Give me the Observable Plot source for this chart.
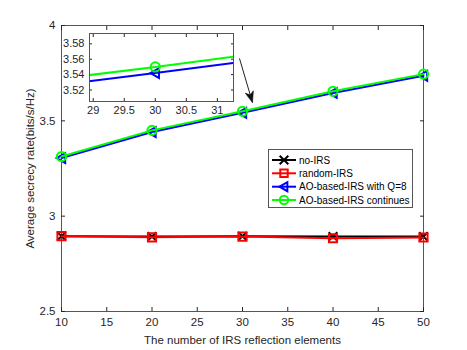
<!DOCTYPE html>
<html>
<head>
<meta charset="utf-8">
<script src="https://cdn.jsdelivr.net/npm/d3@7"></script>
<script src="https://cdn.jsdelivr.net/npm/@observablehq/plot@0.6"></script>
<style>
  html, body { margin: 0; padding: 0; background: white; }
  #wrap { position: relative; width: 467px; height: 350px; }
  #inset { position: absolute; left: 59px; top: 28px; }
</style>
</head>
<body>
<div id="wrap"><div id="main"></div><div id="inset"></div></div>
<script>
// ---- data ----
const xVals = [10, 20, 30, 40, 50];
const noIRS = [2.895, 2.893, 2.895, 2.893, 2.893];
const randomIRS = [2.895, 2.889, 2.893, 2.884, 2.888];
const aoQ8 = [3.305, 3.441, 3.542, 3.646, 3.736];
const aoContinues = [3.313, 3.450, 3.550, 3.655, 3.745];
const seriesNames = ["no-IRS", "random-IRS", "AO-based-IRS with Q=8", "AO-based-IRS continues"];
const seriesColors = ["#000000", "#ff0000", "#0000ff", "#00ff00"];
const xTicks = [10, 15, 20, 25, 30, 35, 40, 45, 50];
const yTicks = [2.5, 3, 3.5, 4];
const insetXTicks = [29, 29.5, 30, 30.5, 31];
const insetYTicks = [3.52, 3.54, 3.56, 3.58];
const xLabel = "The number of IRS reflection elements";
const yLabel = "Average secrecy rate(bits/s/Hz)";
const arrowStart = {x: 29.67, y: 3.827};
const arrowEnd = {x: 31.1, y: 3.596};

// ---- symbols ----
const triLeft = {
  draw(ctx, size) {
    const s = Math.sqrt(size) * 0.6;
    ctx.moveTo(-s, 0);
    ctx.lineTo(s * 0.75, -s);
    ctx.lineTo(s * 0.75, s);
    ctx.closePath();
  }
};
// filled arrow head pointing along the arrow's on-screen direction
const headDir = (() => { const dx = 13, dy = 44, l = Math.hypot(dx, dy); return [dx / l, dy / l]; })();
const arrowHead = {
  draw(ctx) {
    const [ux, uy] = headDir, px = -uy, py = ux;
    const L = 11, W = 4.2, N = 8;
    ctx.moveTo(0, 0);
    ctx.lineTo(-ux * L + px * W, -uy * L + py * W);
    ctx.lineTo(-ux * N, -uy * N);
    ctx.lineTo(-ux * L - px * W, -uy * L - py * W);
    ctx.closePath();
  }
};
const seriesSymbols = [d3.symbolTimes, d3.symbolSquare, triLeft, d3.symbolCircle];
const seriesValues = [noIRS, randomIRS, aoQ8, aoContinues];
const seriesData = seriesValues.map((vals, i) => xVals.map((x, j) => ({x, y: vals[j], s: seriesNames[i]})));

const font = "'Liberation Sans', Arial, sans-serif";
const axisColor = "#262626";
const frameColor = "#555";

function seriesMarks(clip) {
  const marks = [];
  seriesData.forEach((d, i) => {
    marks.push(Plot.line(d, {x: "x", y: "y", stroke: seriesColors[i], strokeWidth: 2, clip}));
    marks.push(Plot.dot(d, {x: "x", y: "y", symbol: () => seriesSymbols[i], r: i === 0 ? 4 : 4.6,
      stroke: seriesColors[i], strokeWidth: 2, fill: "none", clip}));
  });
  return marks;
}

// ---- main chart ----
const main = Plot.plot({
  width: 467, height: 350,
  marginLeft: 61, marginRight: 44, marginTop: 25, marginBottom: 39,
  x: {domain: [10, 50]},
  y: {domain: [2.5, 4]},
  style: {fontFamily: font, fontSize: "11px", color: axisColor, background: "white"},
  marks: [
    Plot.frame({stroke: frameColor, strokeWidth: 1}),
    Plot.axisX({ticks: xTicks, tickSize: -4, tickPadding: 10, tickFormat: d => String(d),
      label: xLabel, labelAnchor: "center", labelOffset: 32, labelArrow: "none", fontSize: 11.5}),
    Plot.axisX({anchor: "top", ticks: xTicks, tickSize: -4, tickFormat: () => "", label: null}),
    Plot.axisY({ticks: yTicks, tickSize: -4, tickPadding: 10, tickFormat: d => String(d),
      label: yLabel, labelAnchor: "center", labelOffset: 36, labelArrow: "none", fontSize: 11.5}),
    Plot.axisY({anchor: "right", ticks: yTicks, tickSize: -4, tickFormat: () => "", label: null}),
    ...seriesMarks(false),
    Plot.link([{x1: arrowStart.x, y1: arrowStart.y, x2: arrowEnd.x, y2: arrowEnd.y}],
      {x1: "x1", y1: "y1", x2: "x2", y2: "y2", stroke: "#222", strokeWidth: 1}),
    Plot.dot([arrowEnd], {x: "x", y: "y", symbol: () => arrowHead, fill: "#111", stroke: "#111", strokeWidth: 0.6})
  ]
});
document.getElementById("main").appendChild(main);

// ---- legend ----
const svg = d3.select(main);
const lg = svg.append("g").attr("font-family", font).attr("font-size", 10).attr("text-anchor", "start");
lg.append("rect").attr("x", 268.5).attr("y", 149.5).attr("width", 144).attr("height", 58)
  .attr("fill", "white").attr("stroke", frameColor);
const rowY = [160, 173.3, 186.7, 200];
seriesNames.forEach((name, i) => {
  const y = rowY[i];
  lg.append("line").attr("x1", 272).attr("x2", 296).attr("y1", y).attr("y2", y)
    .attr("stroke", seriesColors[i]).attr("stroke-width", 2);
  const size = Math.PI * Math.pow(i === 0 ? 4 : 4.2, 2);
  lg.append("path").attr("d", d3.symbol(seriesSymbols[i], size)())
    .attr("transform", `translate(284,${y})`).attr("fill", "none")
    .attr("stroke", seriesColors[i]).attr("stroke-width", 2);
  lg.append("text").attr("x", 299).attr("y", y).attr("dy", "0.35em")
    .attr("text-anchor", "start").attr("fill", "#000").text(name);
});

// ---- inset ----
const inset = Plot.plot({
  width: 179, height: 93,
  marginLeft: 30, marginRight: 5, marginTop: 5, marginBottom: 20,
  x: {domain: [28.94, 31.26]},
  y: {domain: [3.505, 3.5935]},
  style: {fontFamily: font, fontSize: "11px", color: axisColor, background: "transparent"},
  marks: [
    Plot.frame({fill: "white"}),
    Plot.axisX({ticks: insetXTicks, tickSize: -3, tickPadding: 8, tickFormat: d => String(d), label: null}),
    Plot.axisX({anchor: "top", ticks: insetXTicks, tickSize: -3, tickFormat: () => "", label: null}),
    Plot.axisY({ticks: insetYTicks, tickSize: -3, tickPadding: 8, tickFormat: d => String(d), label: null}),
    Plot.axisY({anchor: "right", ticks: insetYTicks, tickSize: -3, tickFormat: () => "", label: null}),
    ...seriesMarks(true),
    Plot.frame({stroke: frameColor, strokeWidth: 1})
  ]
});
document.getElementById("inset").appendChild(inset);
</script>
</body>
</html>
